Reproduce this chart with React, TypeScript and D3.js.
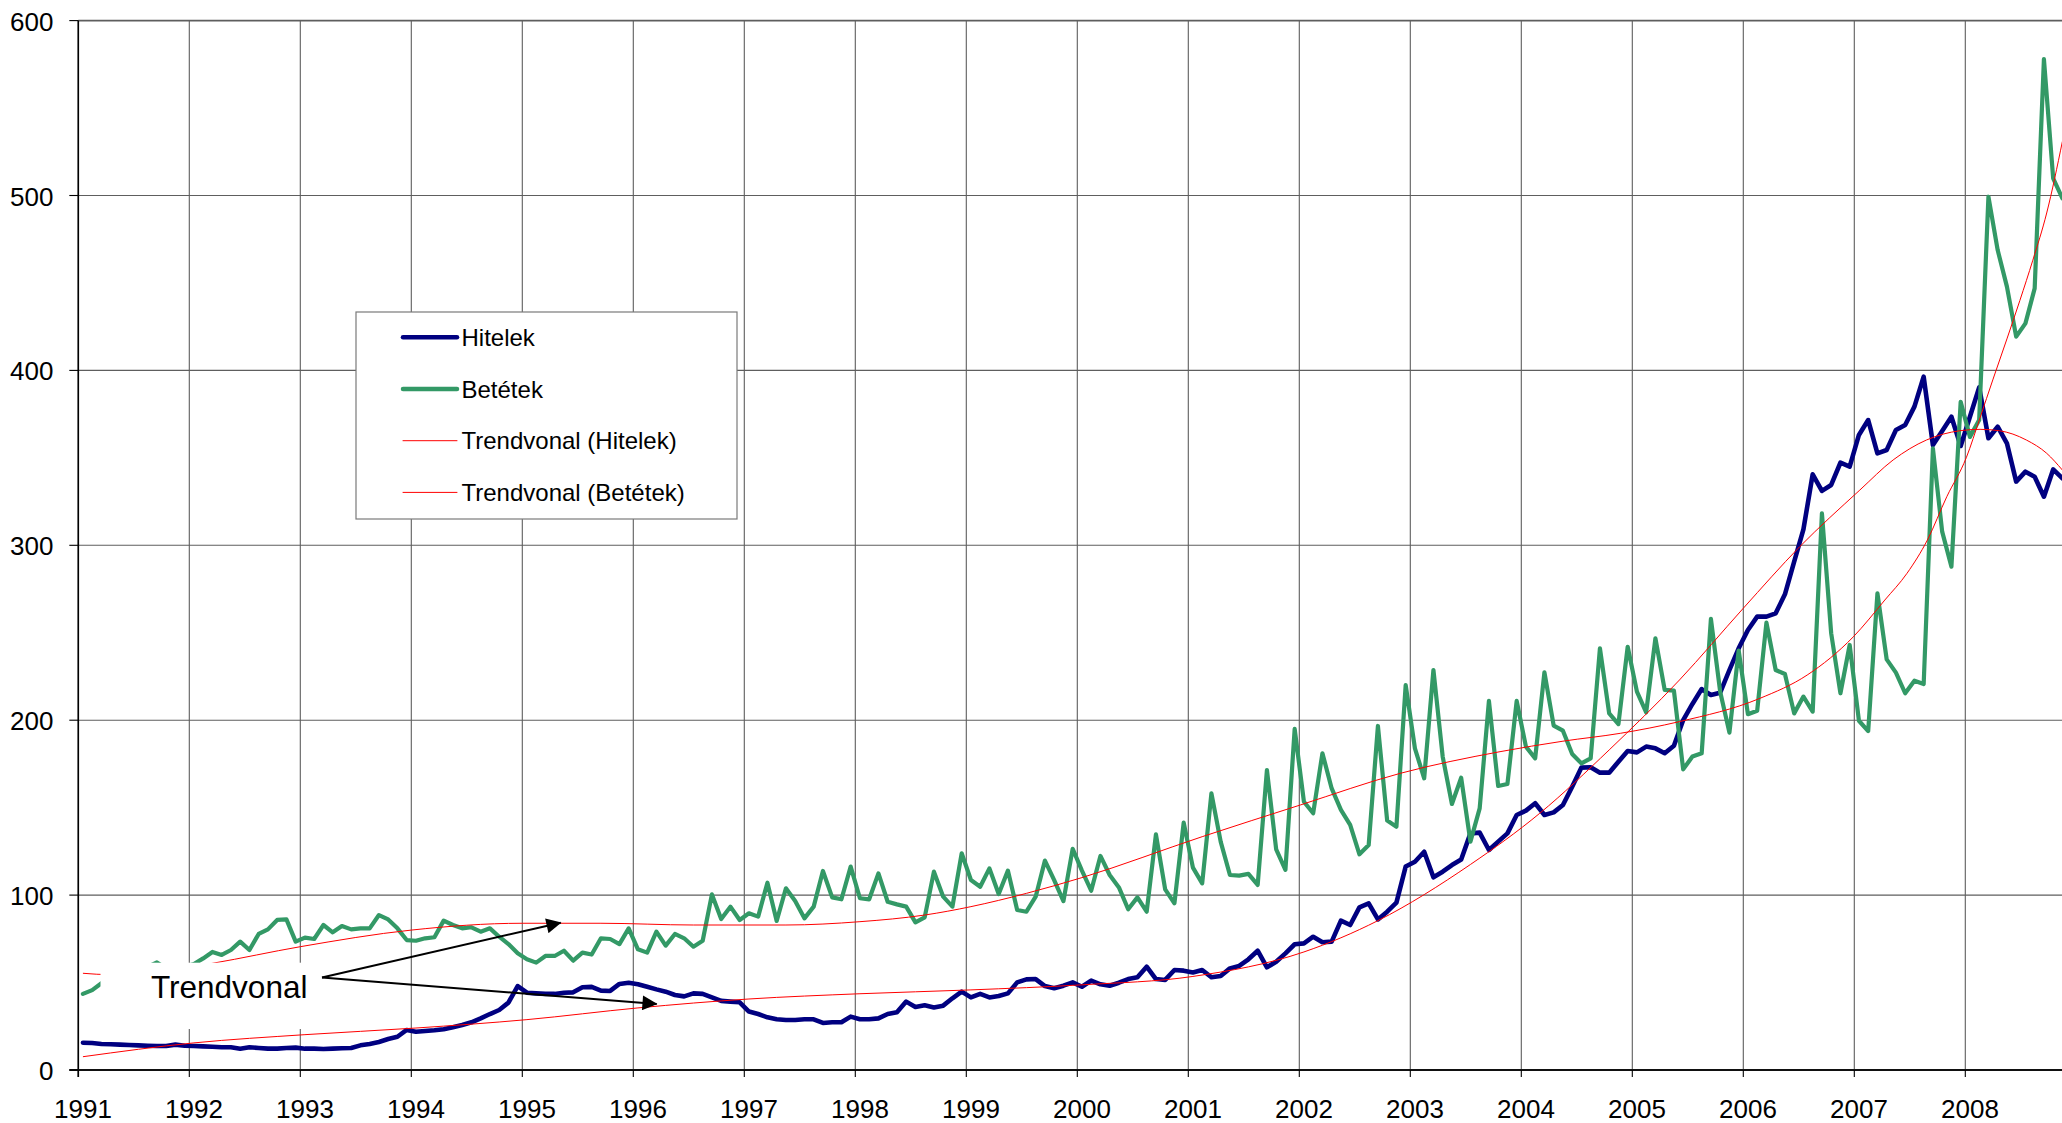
import React from 'react';
import * as d3 from 'd3';

// ---- data (monthly, Jan 1991 .. Nov 2008) ----
const yearLabels = [1991, 1992, 1993, 1994, 1995, 1996, 1997, 1998, 1999, 2000, 2001, 2002, 2003, 2004, 2005, 2006, 2007, 2008];
const yTicks = [0, 100, 200, 300, 400, 500, 600];

const hitelek = [
  15.6, 15.4, 14.9, 14.7, 14.5, 14.3, 14.1, 13.9, 13.7, 13.7, 14.5, 13.9,
  13.7, 13.5, 13.3, 13.0, 13.0, 12.2, 13.0, 12.6, 12.2, 12.2, 12.6, 12.8,
  12.2, 12.2, 12.0, 12.2, 12.4, 12.6, 14.1, 14.9, 16.0, 17.7, 19.0, 22.9,
  21.9, 22.3, 22.7, 23.3, 24.4, 25.7, 27.3, 29.5, 32.0, 34.3, 38.5, 48.0,
  44.2, 43.8, 43.5, 43.5, 44.2, 44.4, 47.3, 47.5, 45.4, 45.2, 49.2, 49.9,
  49.0, 47.6, 46.1, 44.8, 42.9, 42.1, 43.8, 43.5, 41.5, 39.5, 39.1, 38.7,
  33.4, 32.0, 30.1, 29.0, 28.6, 28.6, 29.0, 29.0, 26.9, 27.3, 27.3, 30.5,
  29.0, 29.0, 29.5, 32.0, 33.0, 39.1, 36.0, 37.0, 35.8, 36.8, 41.0, 44.8,
  41.5, 43.5, 41.5, 42.3, 43.8, 50.1, 51.8, 52.0, 48.0, 46.7, 48.2, 50.1,
  47.6, 51.1, 49.0, 48.2, 49.9, 52.0, 53.0, 59.1, 52.0, 51.5, 57.2, 56.8,
  55.8, 57.2, 53.0, 53.7, 58.1, 59.5, 63.3, 68.2, 58.7, 61.9, 66.7, 71.9,
  72.4, 76.2, 73.0, 73.4, 85.4, 82.9, 93.0, 95.3, 86.1, 90.5, 95.7, 116.3,
  119.1, 124.8, 110.2, 113.4, 117.2, 120.4, 135.3, 135.7, 125.8, 130.6, 135.3, 145.8,
  148.3, 152.5, 145.8, 147.3, 151.5, 162.0, 172.9, 173.1, 170.0, 170.0, 176.3, 182.4,
  181.6, 184.9, 183.9, 181.1, 185.4, 200.1, 209.3, 217.8, 214.4, 215.7, 228.7, 241.1,
  251.6, 259.2, 259.2, 261.1, 272.0, 290.6, 309.1, 340.6, 331.1, 334.5, 347.2, 345.0,
  363.1, 371.6, 352.6, 354.5, 365.9, 368.8, 379.3, 396.4, 357.3, 365.4, 373.5, 356.8,
  373.5, 390.3, 361.2, 367.8, 358.3, 336.4, 342.1, 339.2, 327.8, 343.4, 338.3,
];

const betetek = [
  43.5, 45.7, 49.6, 52.0, 54.0, 56.0, 58.0, 59.0, 61.5, 58.0, 57.0, 59.0,
  60.6, 63.8, 67.5, 65.8, 68.6, 73.4, 68.6, 77.8, 80.4, 85.8, 86.1, 73.4,
  75.7, 74.9, 82.9, 78.7, 82.3, 80.4, 81.0, 81.0, 88.6, 86.1, 81.0, 74.3,
  73.9, 75.3, 75.9, 85.4, 82.9, 81.0, 81.6, 79.1, 81.0, 76.2, 72.0, 66.7,
  63.3, 61.4, 65.2, 65.2, 68.2, 62.5, 67.1, 66.0, 75.3, 74.9, 72.0, 81.0,
  69.0, 67.1, 79.1, 71.1, 77.8, 75.3, 70.5, 73.9, 100.4, 86.3, 93.4, 85.8,
  89.6, 87.7, 107.1, 85.2, 103.9, 96.6, 86.7, 93.4, 113.8, 98.7, 97.6, 116.3,
  98.2, 97.6, 112.4, 96.2, 94.7, 93.4, 84.4, 87.3, 113.4, 99.1, 93.4, 123.9,
  108.6, 104.8, 115.3, 100.6, 114.0, 91.5, 90.5, 99.1, 119.7, 108.6, 96.6, 126.5,
  114.0, 102.5, 122.4, 111.5, 104.4, 91.9, 98.7, 90.5, 134.7, 103.3, 95.3, 141.4,
  115.7, 106.7, 158.2, 130.6, 111.5, 111.1, 112.1, 105.8, 171.5, 126.2, 114.4, 195.0,
  153.4, 146.8, 181.1, 161.0, 148.7, 140.1, 123.3, 128.6, 196.7, 142.6, 139.1, 220.1,
  183.9, 166.8, 228.7, 179.2, 152.1, 167.1, 130.6, 149.6, 211.0, 162.4, 163.5, 211.0,
  184.9, 178.2, 227.4, 196.9, 194.0, 180.7, 175.3, 178.2, 241.1, 203.9, 197.8, 242.0,
  216.3, 204.5, 246.8, 217.3, 216.9, 171.9, 179.2, 181.1, 257.9, 216.3, 192.9, 239.8,
  203.4, 205.4, 255.8, 228.7, 226.4, 203.9, 213.5, 204.9, 318.3, 249.7, 215.4, 243.0,
  199.7, 193.8, 272.5, 234.8, 227.2, 215.4, 222.6, 220.7, 355.4, 307.8, 287.8, 382.0,
  362.0, 371.6, 499.3, 468.8, 447.9, 419.3, 426.9, 446.9, 578.0, 509.8, 498.4,
];

// trend lines (month index, value)
const trendHitelekMonths = [0, 12, 24, 36, 48, 60, 72, 84, 96, 108, 120, 132, 140, 150, 157.5, 165, 172.6, 179.5, 185.6, 192.1, 195.7, 199.3, 202.9, 205.1, 207.2, 210.1, 212.3, 214];
const trendHitelekValues = [7.6, 15.5, 20.2, 24, 28.8, 35.5, 40.6, 43.6, 45.8, 48.7, 53.5, 67.5, 85.4, 117.5, 146.8, 183, 223, 264, 299.2, 331.6, 348.8, 360.2, 365.5, 366.3, 365.5, 360.2, 352.6, 343];
const trendBetetekMonths = [0, 3, 8, 14, 23.5, 35.5, 47.5, 56, 66, 76, 84, 91, 96, 102, 108, 121, 131.6, 142.4, 153.2, 160, 166.2, 172.6, 181.3, 186.4, 191.4, 194.8, 197.2, 199.4, 201.5, 203.6, 205.1, 206.5, 208, 209.4, 210.8, 212.3, 214];
const trendBetetekValues = [55.3, 54.5, 56, 61, 70.5, 80, 83.9, 83.9, 82.9, 82.9, 84.8, 88.6, 93.4, 101, 110, 133.4, 151.5, 169.6, 182, 188, 192.5, 199.2, 212.5, 225.8, 247.7, 268.7, 284, 303, 327.8, 350, 373, 395, 418, 440, 463, 490, 531];

const seriesNames = ['Hitelek', 'Betétek', 'Trendvonal (Hitelek)', 'Trendvonal (Betétek)'];
const annotationText = 'Trendvonal';

const NAVY = '#000080';
const GREEN = '#339966';
const RED = '#ff0000';
const FONT = '"Liberation Sans", Arial, Helvetica, sans-serif';

export default function App() {
  const W = 2062;
  const H = 1123;
  const left = 78.3;
  const right = 2076.3;
  const top = 20.6;
  const bottom = 1070;

  const x = d3.scaleLinear().domain([0, 216]).range([left, right]);
  const y = d3.scaleLinear().domain([0, 600]).range([bottom, top]);

  const dataLine = d3
    .line<number>()
    .x((_, i) => x(i + 0.5))
    .y((d) => y(d));

  const trendLine = d3
    .line<[number, number]>()
    .x((d) => x(d[0] + 0.5))
    .y((d) => y(d[1]))
    .curve(d3.curveMonotoneX);

  const trendH = trendHitelekMonths.map((m, i) => [m, trendHitelekValues[i]] as [number, number]);
  const trendB = trendBetetekMonths.map((m, i) => [m, trendBetetekValues[i]] as [number, number]);

  const yearTicks = d3.range(0, 217, 12);

  // legend
  const lg = { x: 356, y: 312, w: 381, h: 207 };
  const legendRows = [
    { name: seriesNames[0], color: NAVY, width: 4.5 },
    { name: seriesNames[1], color: GREEN, width: 4.5 },
    { name: seriesNames[2], color: RED, width: 1 },
    { name: seriesNames[3], color: RED, width: 1 },
  ];

  // annotation
  const arrowStart = { x: 322, y: 977.5 };
  const arrowEnds = [
    { x: 560.7, y: 922.7 },
    { x: 656.7, y: 1004 },
  ];

  return (
    <svg
      width={W}
      height={H}
      style={{ position: 'absolute', left: 0, top: 0, background: '#fff', overflow: 'hidden' }}
      xmlns="http://www.w3.org/2000/svg"
    >
      <defs>
        <clipPath id="plotClip">
          <rect x={left} y={top - 5} width={right - left} height={bottom - top + 10} />
        </clipPath>
        <marker id="arrowHead" viewBox="0 0 10 10" refX="9.5" refY="5" markerWidth="9" markerHeight="7.5" orient="auto" markerUnits="strokeWidth">
          <path d="M0,0 L10,5 L0,10 z" fill="#000" />
        </marker>
      </defs>
      <rect x={0} y={0} width={W} height={H} fill="#fff" />

      {/* horizontal gridlines */}
      {yTicks.map((t) => (
        <line key={'hg' + t} x1={left} x2={right} y1={y(t)} y2={y(t)} stroke="#5e5e5e" strokeWidth={t === 600 ? 1.6 : 1.1} />
      ))}
      {/* vertical gridlines */}
      {yearTicks.map((m) => (
        <line key={'vg' + m} x1={x(m)} x2={x(m)} y1={top} y2={bottom} stroke="#5e5e5e" strokeWidth={1.1} />
      ))}

      {/* axes */}
      <line x1={left} x2={left} y1={top} y2={bottom + 7} stroke="#000" strokeWidth={1.6} />
      <line x1={left - 9} x2={right} y1={bottom} y2={bottom} stroke="#111" strokeWidth={2.2} />
      {yTicks.map((t) => (
        <line key={'yt' + t} x1={left - 9} x2={left} y1={y(t)} y2={y(t)} stroke="#000" strokeWidth={1.1} />
      ))}
      {yearTicks.map((m) => (
        <line key={'xt' + m} x1={x(m)} x2={x(m)} y1={bottom} y2={bottom + 7} stroke="#000" strokeWidth={1.1} />
      ))}

      {/* tick labels */}
      {yTicks.map((t) => (
        <text key={'yl' + t} x={53.5} y={y(t) + 10} textAnchor="end" fontFamily={FONT} fontSize={26} fill="#000">
          {t}
        </text>
      ))}
      {yearLabels.map((yr, k) => (
        <text key={'xl' + yr} x={x(k * 12 + 0.5)} y={1118} textAnchor="middle" fontFamily={FONT} fontSize={26} fill="#000">
          {yr}
        </text>
      ))}

      {/* data lines */}
      <g clipPath="url(#plotClip)">
        <path d={dataLine(hitelek) || ''} fill="none" stroke={NAVY} strokeWidth={4.6} strokeLinejoin="round" strokeLinecap="round" />
        <path d={dataLine(betetek) || ''} fill="none" stroke={GREEN} strokeWidth={4.2} strokeLinejoin="round" strokeLinecap="round" />
        <path d={trendLine(trendH) || ''} fill="none" stroke={RED} strokeWidth={1} />
        <path d={trendLine(trendB) || ''} fill="none" stroke={RED} strokeWidth={1} />
      </g>

      {/* annotation box */}
      <rect x={100.5} y={962.7} width={221.5} height={66.3} fill="#fff" />
      <text x={151} y={998.3} fontFamily={FONT} fontSize={31.5} fill="#000">
        {annotationText}
      </text>
      {arrowEnds.map((e, i) => (
        <line key={'ar' + i} x1={arrowStart.x} y1={arrowStart.y} x2={e.x} y2={e.y} stroke="#000" strokeWidth={2} markerEnd="url(#arrowHead)" />
      ))}

      {/* legend */}
      <rect x={lg.x} y={lg.y} width={lg.w} height={lg.h} fill="#fff" stroke="#7a7a7a" strokeWidth={1.2} />
      {legendRows.map((r, i) => {
        const ry = 337.3 + i * 51.7;
        return (
          <g key={'lg' + i}>
            <line x1={403} x2={457} y1={ry} y2={ry} stroke={r.color} strokeWidth={r.width} strokeLinecap="round" />
            <text x={461.5} y={ry + 8.7} fontFamily={FONT} fontSize={24} fill="#000">
              {r.name}
            </text>
          </g>
        );
      })}
    </svg>
  );
}
